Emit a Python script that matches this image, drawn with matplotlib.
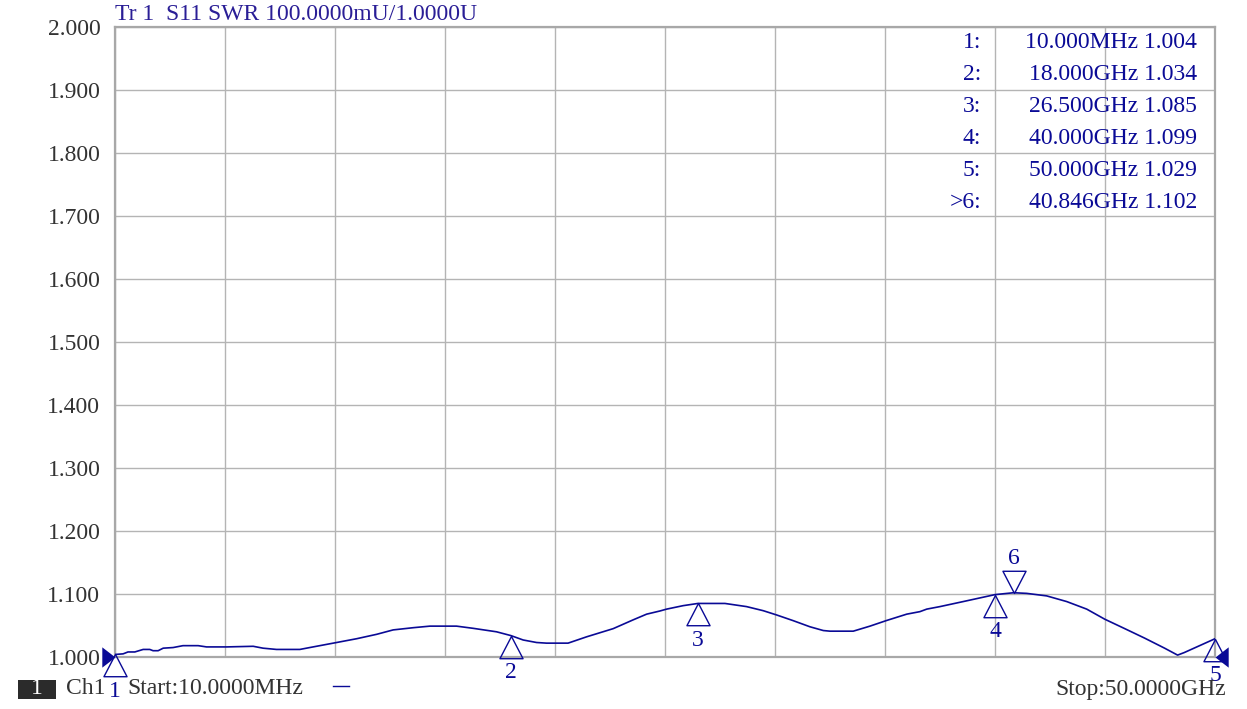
import numpy as np
import matplotlib
matplotlib.use('Agg')
import matplotlib.pyplot as plt
from matplotlib.path import Path
from matplotlib.patches import Rectangle

# trace (GHz, SWR)
freq = [0.01, 0.38, 0.60, 0.91, 1.29, 1.59, 1.74, 1.97, 2.20, 2.65, 3.10,
        3.79, 4.17, 5.08, 6.29, 6.74, 7.35, 8.41, 8.86, 10.08, 10.99, 11.90,
        12.65, 13.56, 14.32, 15.53, 16.29, 17.35, 18.0, 18.56, 19.17, 19.62,
        20.60, 21.44, 22.65, 23.56, 24.17, 24.77, 25.08, 25.83, 26.5, 27.73,
        28.71, 29.47, 30.08, 30.83, 31.59, 32.20, 32.50, 33.56, 34.32, 35.08,
        35.99, 36.59, 36.90, 37.50, 38.56, 40.0, 40.846, 41.44, 42.35, 43.26,
        44.17, 44.99, 45.90, 46.80, 47.71, 48.30, 48.60, 50.0]
swr = [1.004, 1.005, 1.008, 1.008, 1.012, 1.012, 1.010, 1.010, 1.014, 1.015,
       1.018, 1.018, 1.016, 1.016, 1.017, 1.014, 1.012, 1.012, 1.015, 1.023,
       1.029, 1.036, 1.043, 1.0465, 1.049, 1.049, 1.0455, 1.040, 1.034, 1.027,
       1.023, 1.022, 1.022, 1.032, 1.045, 1.059, 1.068, 1.073, 1.076, 1.0815,
       1.085, 1.085, 1.080, 1.0735, 1.0667, 1.0577, 1.048, 1.042, 1.041, 1.041,
       1.049, 1.058, 1.068, 1.072, 1.076, 1.080, 1.088, 1.099, 1.102, 1.101,
       1.097, 1.088, 1.076, 1.060, 1.045, 1.030, 1.014, 1.003, 1.007, 1.029]

# markers
mk_id = ['1', '2', '3', '4', '5', '6']
mk_freq = [0.01, 18.0, 26.5, 40.0, 50.0, 40.846]
mk_val = [1.004, 1.034, 1.085, 1.099, 1.029, 1.102]
mk_text = ['10.000MHz 1.004', '18.000GHz 1.034', '26.500GHz 1.085',
           '40.000GHz 1.099', '50.000GHz 1.029', '40.846GHz 1.102']

yticks = np.arange(1.0, 2.0001, 0.1)
navy = '#0a0a96'
txtcol = '#333333'
fs = 17
W, H = 1247, 709
plt.rcParams['font.family'] = ['Liberation Serif', 'DejaVu Serif']

def fx(px):
  return px / W

def fy(py):
  return 1 - py / H

fig = plt.figure(figsize=(W / 100, H / 100), dpi=100)
ax = fig.add_axes([fx(115), fy(657), fx(1215) - fx(115), fy(27) - fy(657)])
ax.set_xlim(0.01, 50.0)
ax.set_ylim(1.0, 2.0)
ax.set_xticks(np.linspace(0.01, 50.0, 11))
ax.set_yticks(yticks)
ax.set_yticklabels(['%.3f' % v for v in yticks], fontsize=fs, color=txtcol)
ax.tick_params(axis='x', length=0, labelbottom=False)
ax.tick_params(axis='y', length=0, pad=10.5)
ax.grid(True, color='#b4b4b4', lw=1.0)
for s in ax.spines.values():
  s.set_color('#a8a8a8')
  s.set_linewidth(1.6)

ax.plot(freq, swr, color=navy, lw=1.2, zorder=3)

# marker triangles, apex on the trace
up = Path([(0, 0), (-0.52, -1), (0.52, -1), (0, 0)],
          [Path.MOVETO, Path.LINETO, Path.LINETO, Path.CLOSEPOLY])
down = Path([(0, 0), (-0.52, 1), (0.52, 1), (0, 0)],
            [Path.MOVETO, Path.LINETO, Path.LINETO, Path.CLOSEPOLY])
for i in range(len(mk_id)):
  inv = mk_id[i] == '6'
  ax.plot([mk_freq[i]], [mk_val[i]], marker=down if inv else up,
          ms=32, mfc='none', mec=navy, mew=1.0, clip_on=False, zorder=4)
  dy = 25 if inv else -26.5
  ax.annotate(mk_id[i], (mk_freq[i], mk_val[i]), xytext=(0, dy),
              textcoords='offset points', ha='center', va='center',
              fontsize=fs, color=navy, annotation_clip=False)

# reference level arrows on both edges, tips on the 1.000 line
right_tip = Path([(0, 0), (-1, 0.77), (-1, -0.77), (0, 0)],
                 [Path.MOVETO, Path.LINETO, Path.LINETO, Path.CLOSEPOLY])
left_tip = Path([(0, 0), (1, 0.77), (1, -0.77), (0, 0)],
                [Path.MOVETO, Path.LINETO, Path.LINETO, Path.CLOSEPOLY])
ax.plot([0.01], [1.0], marker=right_tip, ms=19, color=navy, mew=0,
        clip_on=False, zorder=5)
ax.plot([50.0], [1.0], marker=left_tip, ms=19, color=navy, mew=0,
        clip_on=False, zorder=5)

# marker table
for i in range(len(mk_id)):
  y = 43 + 32 * i
  lab = mk_id[i] + ':'
  if mk_id[i] == '6':
    lab = '>' + lab
  fig.text(fx(981), fy(y), lab, ha='right', va='center', fontsize=fs,
           color=navy)
  fig.text(fx(1197), fy(y), mk_text[i], ha='right', va='center', fontsize=fs,
           color=navy)

fig.text(fx(115), fy(15), 'Tr 1  S11 SWR 100.0000mU/1.0000U', ha='left',
         va='center', fontsize=fs, color='#2a1e96')

# bottom status line
fig.add_artist(Rectangle((fx(18), fy(699)), fx(38), fy(680) - fy(699),
                         transform=fig.transFigure, fc='#2b2b2b', ec='none'))
fig.text(fx(37), fy(689), '1', ha='center', va='center', fontsize=fs,
         color='white')
fig.text(fx(66), fy(689), 'Ch1', ha='left', va='center', fontsize=fs,
         color=txtcol)
fig.text(fx(127), fy(689), 'Start:10.0000MHz', ha='left', va='center',
         fontsize=fs, color=txtcol)
fig.add_artist(plt.Line2D([fx(333), fx(349)], [fy(686), fy(686)], color=navy,
                          lw=1.0))
fig.text(fx(1226), fy(689), 'Stop:50.0000GHz', ha='right', va='center',
         fontsize=fs, color=txtcol)

fig.savefig('out.png', dpi=100)
